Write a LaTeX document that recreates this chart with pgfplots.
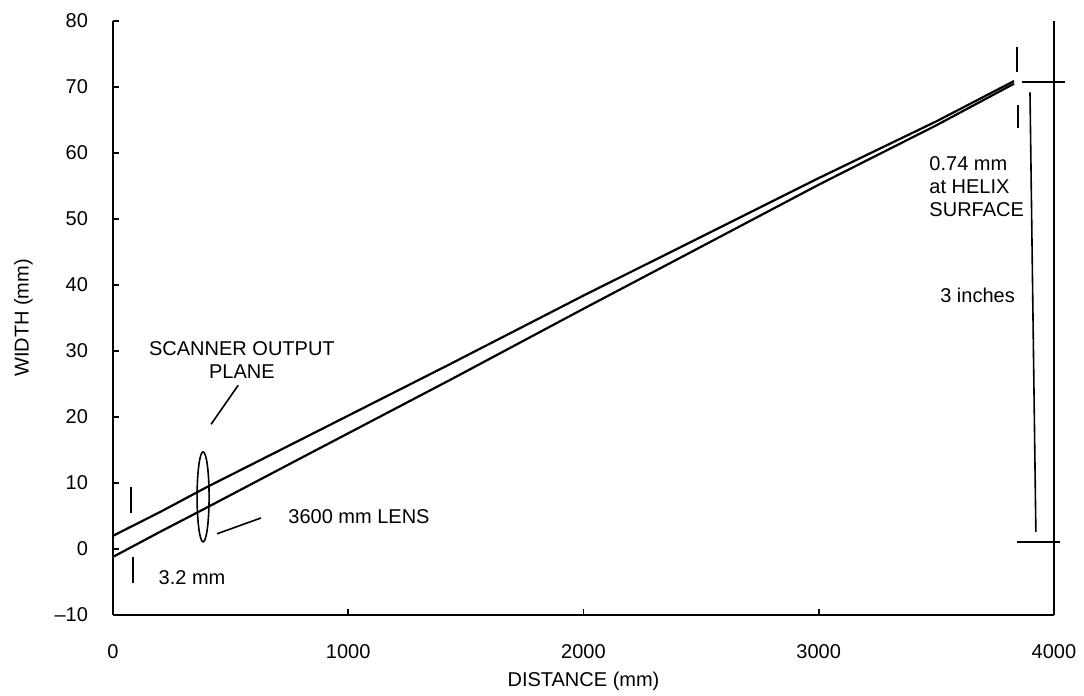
\documentclass[border=0pt]{standalone}
\usepackage{fontspec}
\setmainfont{Liberation Sans}
\usepackage{pgfplots}
\pgfplotsset{compat=1.18}

\begin{document}
\begin{tikzpicture}
\begin{axis}[
  at={(0pt,0pt)}, anchor=south west,
  scale only axis,
  width=470.5pt, height=297pt,
  xmin=0, xmax=4000,
  ymin=-10, ymax=80,
  axis lines=left,
  axis line style={-, line width=1.2pt},
  xtick={0,1000,2000,3000,4000},
  ytick={-10,0,10,20,30,40,50,60,70,80},
  yticklabels={–10,0,10,20,30,40,50,60,70,80},
  tick align=inside,
  major tick length=3pt,
  tick style={black, line width=0.8pt},
  xticklabel style={yshift=-11pt},
  yticklabel style={xshift=-9pt},
  xlabel={DISTANCE (mm)},
  ylabel={WIDTH (mm)},
  xlabel style={yshift=0pt},
  ylabel style={yshift=4pt},
  font=\fontsize{10}{12}\selectfont,
  /pgf/number format/assume math mode=true,
  /pgf/number format/1000 sep={},
  clip=false,
  every axis plot/.append style={black, line width=1.1pt},
]

% upper edge of the beam
\addplot[mark=none] coordinates {
  (0, 2.0) (200, 5.6) (400, 9.4) (800, 16.6) (1432, 28.0) (2000, 38.4)
  (2495, 47.2) (3000, 56.2) (3500, 64.8) (3830, 70.9)
};

% lower edge of the beam
\addplot[mark=none] coordinates {
  (0, -1.2) (200, 2.6) (400, 6.3) (800, 13.8) (1432, 25.6) (2000, 36.4)
  (2495, 45.7) (3000, 55.2) (3500, 64.2) (3830, 70.5)
};

% right frame line
\draw[line width=1.2pt] (rel axis cs:1,0) -- (rel axis cs:1,1);

% lens
\draw[line width=0.8pt] (axis cs:383,7.9) ellipse [x radius=3pt, y radius=22.5pt];
\draw[line width=0.8pt] (axis cs:417,18.9) -- (axis cs:532,24.8);
\node[align=center, font=\fontsize{10}{11.5}\selectfont] at (axis cs:548,28.6) {SCANNER OUTPUT\\PLANE};
\draw[line width=0.8pt] (axis cs:442,2.3) -- (axis cs:629,4.7);
\node[anchor=west, inner sep=0pt, font=\fontsize{10}{12}\selectfont] at (axis cs:744,4.85) {3600 mm LENS};

% 3.2 mm at the start
\draw[line width=0.8pt] (axis cs:76,9.4) -- (axis cs:76,5.45);
\draw[line width=0.8pt] (axis cs:85,-1.2) -- (axis cs:85,-5.15);
\node[font=\fontsize{10}{12}\selectfont] at (axis cs:336,-4.4) {3.2 mm};

% 0.74 mm at the helix surface
\draw[line width=0.8pt] (axis cs:3843,76.1) -- (axis cs:3843,72.3);
\draw[line width=0.8pt] (axis cs:3846,67.3) -- (axis cs:3846,63.8);
\draw[line width=0.8pt] (axis cs:3864,70.76) -- (axis cs:4047,70.76);
\draw[line width=0.8pt] (axis cs:3843,1.06) -- (axis cs:4025,1.06);
\draw[line width=0.8pt] (axis cs:3898,69.2) -- (axis cs:3923,2.6);
\node[anchor=north west, align=left, font=\fontsize{10}{11.5}\selectfont, inner sep=0pt] at (axis cs:3469,59.5) {0.74 mm\\at HELIX\\SURFACE};
\node[anchor=west, font=\fontsize{10}{12}\selectfont, inner sep=0pt] at (axis cs:3515,38.5) {3 inches};
\end{axis}
\pgfresetboundingbox
\path[use as bounding box] (-56.5pt,-40.5pt) rectangle (485.5pt,307.5pt);
\end{tikzpicture}
\end{document}
